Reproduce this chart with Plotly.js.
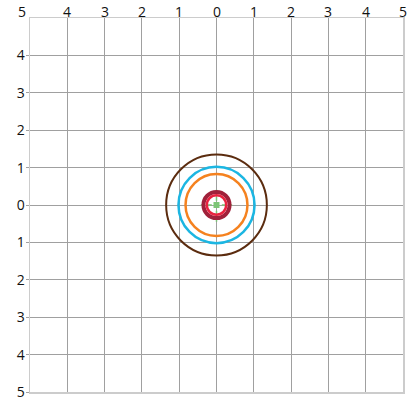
<!DOCTYPE html>
<html><head><meta charset="utf-8">
<script src="https://cdn.plot.ly/plotly-3.0.1.min.js"></script>
<style>html,body{margin:0;padding:0;background:#fff}#c{width:415px;height:400px}</style>
</head><body><div id="c"></div>
<script>
// Tick values and their displayed labels (absolute values)
const tickVals = [-5,-4,-3,-2,-1,0,1,2,3,4,5];
const tickText = ["5","4","3","2","1","0","1","2","3","4","5"];
// Concentric rings centred on origin: radii and colours
const ringNames  = ["Brown","Cyan","Orange","Dark red","Red"];
const ringRadii  = [1.35, 1.02, 0.83, 0.35, 0.26];
const ringColors = ["#5b2c0f","#1cb6e2","#f5821f","#a0213a","#e8233f"];
const ringWidths = [2, 2.5, 2.5, 4, 2.5];
// Centre point with its cross (error) extents
const centerX = [0];
const centerY = [0];
const centerErrX = [0.42];
const centerErrY = [0.45];

const shapes = ringRadii.map((r,i)=>({
  type:'circle', xref:'x', yref:'y',
  x0:-r, x1:r, y0:-r, y1:r,
  line:{color:ringColors[i], width:ringWidths[i]}
}));

const traces = [
  {x:[centerX[0]-centerErrX[0], centerX[0]+centerErrX[0]], y:[centerY[0],centerY[0]],
   mode:'lines', line:{color:'#7cc576', width:1.5, dash:'4px,3px'}, hoverinfo:'skip', showlegend:false},
  {x:[centerX[0],centerX[0]], y:[centerY[0]-centerErrY[0], centerY[0]+centerErrY[0]],
   mode:'lines', line:{color:'#7cc576', width:1.5, dash:'4px,3px'}, hoverinfo:'skip', showlegend:false},
  {x:centerX, y:centerY, mode:'markers', marker:{symbol:'square', size:6, color:'#7cc576'}, showlegend:false}
];

const fontSpec = {family:'Open Sans, sans-serif', size:14, color:'#111'};
const axisCommon = {
  range:[-5,5],
  showgrid:true, gridcolor:'#a0a0a0', gridwidth:1, zeroline:false,
  showline:true, mirror:true, linecolor:'#cccccc', linewidth:1.5,
  tickfont:fontSpec, ticklabeloverflow:'allow',
  fixedrange:true
};

// x tick labels on top, placed through the x axis scale
const xLabelAnn = tickVals.map((v,i)=>({
  xref:'x', yref:'paper', x:v, y:1, yanchor:'bottom', xanchor:'center',
  yshift:-5, xshift: i===0 ? -8 : 0,
  text:tickText[i], showarrow:false, font:fontSpec
}));

const layout = {
  width:415, height:400,
  margin:{l:30, r:12, t:18, b:8},
  paper_bgcolor:'#fff', plot_bgcolor:'#fff',
  xaxis:Object.assign({}, axisCommon, {side:'top', ticks:'', showticklabels:false, tickvals:tickVals}),
  yaxis:Object.assign({}, axisCommon, {ticks:'outside', ticklen:3, tickcolor:'#a0a0a0', ticklabelstandoff:-2,
        tickvals:tickVals.slice(0,-1), ticktext:tickText.slice(0,-1)}),
  shapes:shapes,
  annotations:xLabelAnn,
  showlegend:false
};

Plotly.newPlot('c', traces, layout, {staticPlot:true, displayModeBar:false});
</script>
</body></html>
